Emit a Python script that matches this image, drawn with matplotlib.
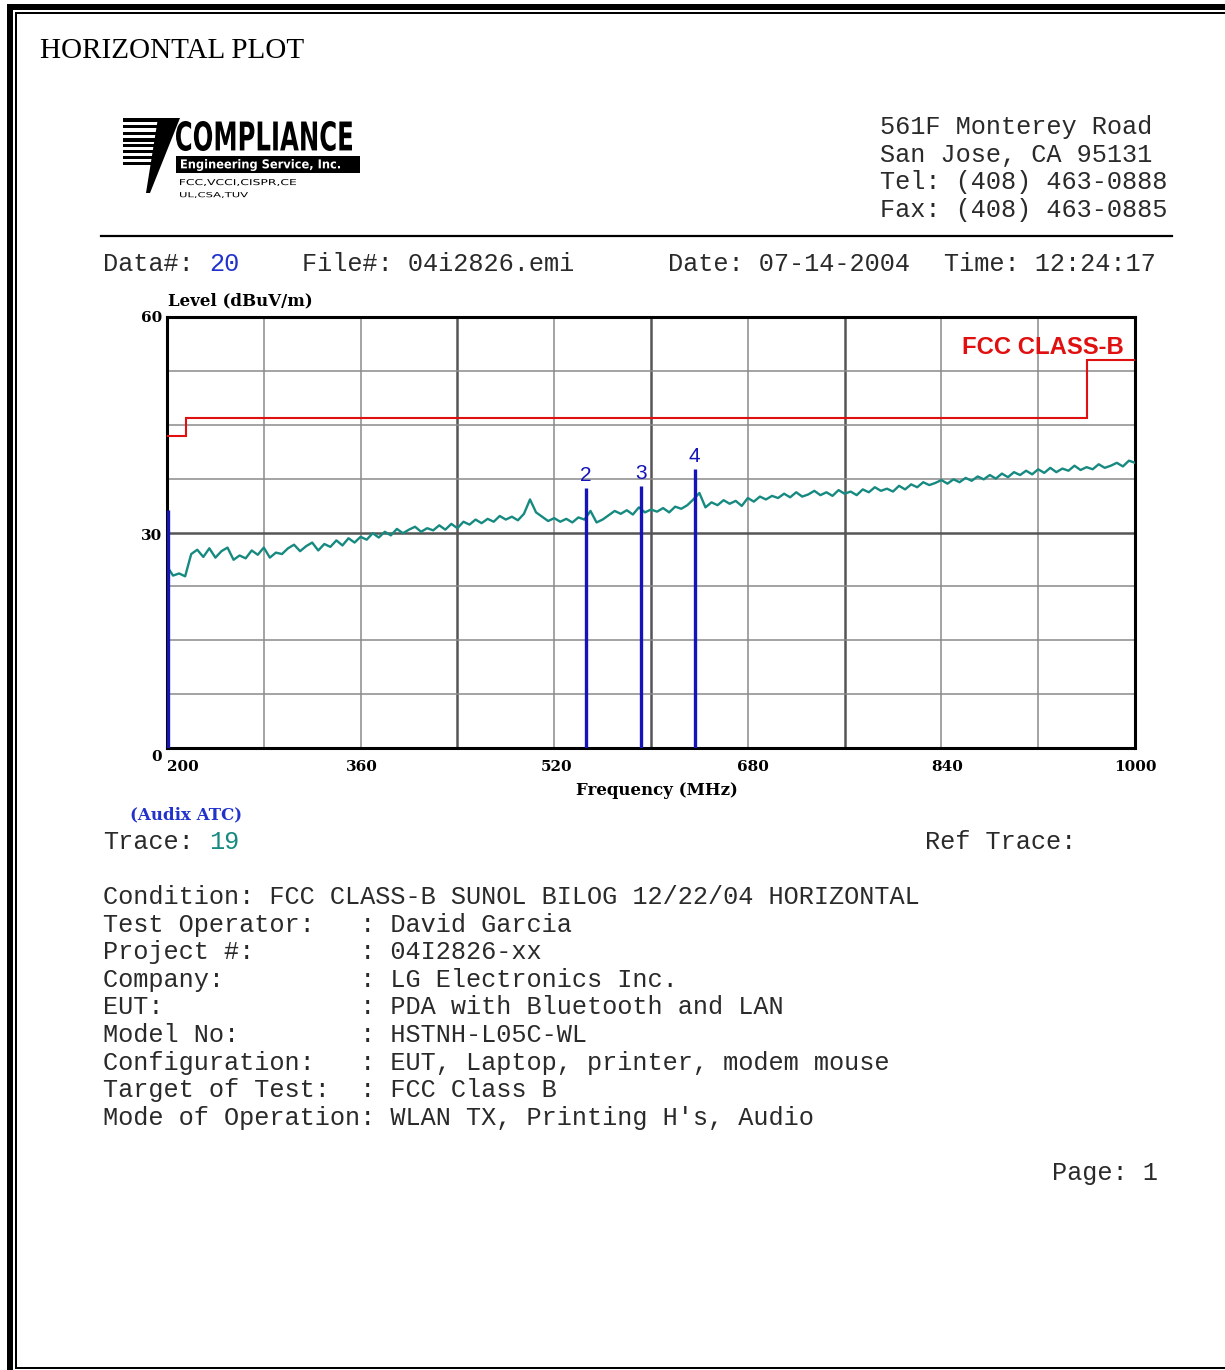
import numpy as np
import matplotlib
matplotlib.use("Agg")
import matplotlib.pyplot as plt
from matplotlib.textpath import TextPath
from matplotlib.patches import PathPatch, Rectangle, Polygon
from matplotlib.font_manager import FontProperties
from matplotlib.transforms import Affine2D

W, H = 1225, 1370

# ---- measured data -------------------------------------------------------
# Peak trace, dBuV/m, sweep grid of 5 MHz from 200 to 1000 MHz
trace_levels = [
    25.3, 24.0, 24.3, 23.9, 27.0, 27.6, 26.6, 27.8, 26.5, 27.4,
    27.9, 26.2, 26.8, 26.4, 27.5, 26.9, 27.9, 26.5, 27.2, 27.0,
    27.8, 28.3, 27.4, 28.1, 28.6, 27.5, 28.4, 28.0, 28.9, 28.2,
    29.2, 28.6, 29.4, 29.0, 29.9, 29.3, 30.1, 29.6, 30.5, 29.9,
    30.4, 30.8, 30.1, 30.6, 30.3, 31.0, 30.4, 31.2, 30.6, 31.5,
    31.1, 31.8, 31.3, 31.9, 31.5, 32.3, 31.8, 32.2, 31.7, 32.6,
    34.6, 32.8, 32.2, 31.6, 32.0, 31.5, 31.9, 31.4, 32.1, 31.8,
    33.0, 31.4, 31.8, 32.4, 33.0, 32.6, 33.1, 32.5, 33.5, 32.8,
    33.2, 32.9, 33.4, 32.8, 33.6, 33.3, 33.8, 34.6, 35.5, 33.5,
    34.2, 33.8, 34.5, 34.0, 34.4, 33.7, 34.8, 34.3, 35.0, 34.6,
    35.1, 34.8, 35.4, 34.9, 35.6, 35.0, 35.3, 35.8, 35.2, 35.6,
    35.1, 35.9, 35.4, 35.7, 35.2, 36.0, 35.6, 36.3, 35.8, 36.1,
    35.7, 36.5, 36.0, 36.7, 36.3, 37.0, 36.6, 36.9, 37.3, 36.8,
    37.4, 37.0, 37.6, 37.2, 37.8, 37.4, 38.0, 37.5, 38.2, 37.7,
    38.4, 38.0, 38.6, 38.1, 38.8, 38.3, 39.0, 38.4, 38.9, 38.6,
    39.3, 38.7, 39.1, 38.8, 39.5, 39.0, 39.3, 39.7, 39.2, 40.0,
    39.7,
]
trace_freq = np.arange(200, 1001, 5)

# FCC Class B limit (3 m), dBuV/m
limit_edges = [200, 216, 960, 1000]
limit_levels = [43.5, 46.0, 54.0]

# Marked emissions
marker_freqs = [200.6, 546.0, 592.0, 636.0]
marker_levels = [33.1, 36.2, 36.5, 38.8]
marker_names = ["1", "2", "3", "4"]

x_tick_values = [200, 360, 520, 680, 840, 1000]
y_tick_values = [0, 30, 60]

address_lines = ["561F Monterey Road", "San Jose, CA 95131",
                 "Tel: (408) 463-0888", "Fax: (408) 463-0885"]

info_lines = [
    "Condition: FCC CLASS-B SUNOL BILOG 12/22/04 HORIZONTAL",
    "Test Operator:   : David Garcia",
    "Project #:       : 04I2826-xx",
    "Company:         : LG Electronics Inc.",
    "EUT:             : PDA with Bluetooth and LAN",
    "Model No:        : HSTNH-L05C-WL",
    "Configuration:   : EUT, Laptop, printer, modem mouse",
    "Target of Test:  : FCC Class B",
    "Mode of Operation: WLAN TX, Printing H's, Audio",
]

# ---- styling ---------------------------------------------------------------
MONO = "Liberation Mono"
SERIF = "Liberation Serif"
PLOTFONT = "DejaVu Serif"
MONO_SIZE = 18.2
TXT = "#2a2a2a"
BLUE = "#2233cc"
TEAL = "#168a80"
RED = "#e01010"
MARK = "#1414b8"

fig = plt.figure(figsize=(W / 100, H / 100), dpi=100)
bg = fig.add_axes([0, 0, 1, 1])
bg.set_xlim(0, W)
bg.set_ylim(H, 0)
bg.axis("off")

# page frame: heavy outer rule plus thin inner rule
bg.add_patch(Rectangle((7, 4), W, 6, color="black", lw=0))
bg.add_patch(Rectangle((7, 4), 6, H, color="black", lw=0))
bg.add_patch(Rectangle((15, 12), W, 2, color="black", lw=0))
bg.add_patch(Rectangle((15, 12), 2, 1357, color="black", lw=0))
bg.add_patch(Rectangle((15, 1367), W, 2, color="black", lw=0))

bg.text(40, 51, "HORIZONTAL PLOT", family=SERIF, fontsize=21,
        ha="left", va="center", color="black")


def fit_text(s, x0, y0, x1, y1, color="black", family="DejaVu Sans",
             weight="bold"):
    tp = TextPath((0, 0), s, size=10,
                  prop=FontProperties(family=family, weight=weight))
    ext = tp.get_extents()
    tr = (Affine2D().translate(-ext.x0, -ext.y0)
          .scale((x1 - x0) / ext.width, -(y1 - y0) / ext.height)
          .translate(x0, y1))
    bg.add_patch(PathPatch(tr.transform_path(tp), color=color, lw=0))


# company logo
for ya, yb, xb in [(118, 122, 172), (125, 128, 170), (132, 135, 168),
                   (138, 142, 166), (144, 147, 164), (150, 153, 162),
                   (156, 159, 160), (162, 165, 158)]:
    bg.add_patch(Rectangle((123, ya), xb - 123, yb - ya, color="black", lw=0))
bg.add_patch(Polygon([(158, 118), (180, 118), (150, 193), (146, 193)],
                     closed=True, color="black", lw=0))
fit_text("COMPLIANCE", 176, 121, 352, 151)
bg.add_patch(Rectangle((176, 156), 184, 17, color="black", lw=0))
fit_text("Engineering Service, Inc.", 181, 159, 340, 171, color="white")
fit_text("FCC,VCCI,CISPR,CE", 180, 179, 296, 186, weight="normal")
fit_text("UL,CSA,TUV", 180, 192, 248, 198, weight="normal")

for i, line in enumerate(address_lines):
    bg.text(880, 127 + i * 27.6, line, family=MONO, fontsize=MONO_SIZE,
            ha="left", va="center", color=TXT)

bg.plot([101, 1172], [236, 236], color="black", lw=1.6)

hdr_y = 264
bg.text(103, hdr_y, "Data#:", family=MONO, fontsize=MONO_SIZE,
        va="center", color=TXT)
bg.text(209, hdr_y, "20", family=MONO, fontsize=MONO_SIZE,
        va="center", color=BLUE)
bg.text(302, hdr_y, "File#: 04i2826.emi", family=MONO, fontsize=MONO_SIZE,
        va="center", color=TXT)
bg.text(668, hdr_y, "Date: 07-14-2004", family=MONO, fontsize=MONO_SIZE,
        va="center", color=TXT)
bg.text(944, hdr_y, "Time: 12:24:17", family=MONO, fontsize=MONO_SIZE,
        va="center", color=TXT)

# ---- spectrum plot -------------------------------------------------------
ax = fig.add_axes([167 / W, 1 - 748 / H, 968 / W, 431 / H])
ax.set_xlim(200, 1000)
ax.set_ylim(0, 60)
ax.set_xticks([])
ax.set_yticks([])
for sp in ax.spines.values():
    sp.set_linewidth(2.2)
    sp.set_color("black")

for f in range(280, 1000, 80):
    strong = f in (440, 600, 760)
    ax.axvline(f, color="#555555" if strong else "#8a8a8a",
               lw=1.8 if strong else 1.1, zorder=1)
for lv in np.arange(7.5, 60, 7.5):
    strong = lv == 30
    ax.axhline(lv, color="#555555" if strong else "#8a8a8a",
               lw=1.8 if strong else 1.1, zorder=1)

ax.stairs(limit_levels, limit_edges, color=RED, lw=1.5, baseline=None,
          zorder=3)
ax.plot(trace_freq, trace_levels, color=TEAL, lw=1.7, zorder=4)
ax.vlines(marker_freqs, 0, marker_levels, color=MARK, lw=2.4, zorder=5)
for f, lv, name in zip(marker_freqs, marker_levels, marker_names):
    if f > 210:
        ax.text(f, lv + 0.4, name, ha="center", va="bottom", color=MARK,
                family="Liberation Sans", fontsize=15, zorder=6)

ax.text(1124, 347, "FCC CLASS-B", family="Liberation Sans",
        fontweight="bold", fontsize=17.2, color=RED, ha="right", va="center",
        transform=bg.transData, zorder=6)

# axis annotations (bold serif, as on the analyzer printout)
bg.text(168, 301, "Level (dBuV/m)", family=PLOTFONT, fontweight="bold",
        fontsize=12, ha="left", va="center", color="black")
for v, yy in zip(y_tick_values, [757, 536, 318]):
    bg.text(162, yy, str(v), family=PLOTFONT, fontweight="bold", fontsize=11,
            ha="right", va="center", color="black")
for v, xx in zip(x_tick_values, [183, 362, 557, 753, 947, 1135]):
    bg.text(xx, 767, str(v), family=PLOTFONT, fontweight="bold", fontsize=11,
            ha="center", va="center", color="black")
bg.text(657, 790, "Frequency (MHz)", family=PLOTFONT, fontweight="bold",
        fontsize=12, ha="center", va="center", color="black")
bg.text(130, 815, "(Audix ATC)", family=PLOTFONT, fontweight="bold",
        fontsize=12, ha="left", va="center", color=BLUE)

bg.text(103, 842, "Trace:", family=MONO, fontsize=MONO_SIZE, va="center",
        color=TXT)
bg.text(209, 842, "19", family=MONO, fontsize=MONO_SIZE, va="center",
        color=TEAL)
bg.text(925, 842, "Ref Trace:", family=MONO, fontsize=MONO_SIZE,
        va="center", color=TXT)

for i, line in enumerate(info_lines):
    bg.text(103, 897 + i * 27.6, line, family=MONO, fontsize=MONO_SIZE,
            va="center", color=TXT)

bg.text(1052, 1173, "Page: 1", family=MONO, fontsize=MONO_SIZE,
        va="center", color=TXT)

fig.savefig("out.png", dpi=100)
